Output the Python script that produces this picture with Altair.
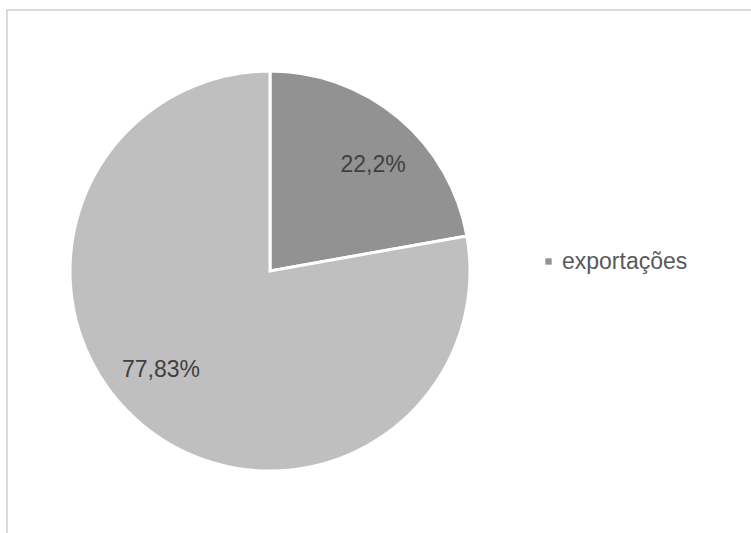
import altair as alt
import pandas as pd

categories = ["exportações", " "]
values = [22.2, 77.83]
labels = ["22,2%", "77,83%"]
order = [0, 1]

df = pd.DataFrame({"categoria": categories, "valor": values, "rotulo": labels, "ordem": order})

color_scale = alt.Scale(domain=categories, range=["#929292", "#bfbfbf"])

base = alt.Chart(df).encode(
    theta=alt.Theta("valor:Q", stack=True),
    order=alt.Order("ordem:Q"),
)

frame = alt.Chart(df).mark_rect(fill=None, stroke="#d9d9d9", strokeWidth=1.5).encode(
    x=alt.value(7), x2=alt.value(780), y=alt.value(10), y2=alt.value(560)
)

pie = base.mark_arc(radius=200, stroke="white", strokeWidth=3).encode(
    x=alt.value(270), y=alt.value(271),
    color=alt.Color(
        "categoria:N", scale=color_scale,
        legend=alt.Legend(
            title=None, values=["exportações"], orient="none",
            legendX=537, legendY=250, symbolType="square", symbolSize=40,
            symbolStrokeWidth=0, labelFontSize=23, labelColor="#595959",
            labelFont="Liberation Sans", labelOffset=2,
        ),
    ),
)

text_style = dict(radius=148, fontSize=23, font="Liberation Sans", color="#404040")

text1 = base.mark_text(dx=8, dy=7, **text_style).encode(
    x=alt.value(270), y=alt.value(271),
    text="rotulo:N",
    opacity=alt.condition(alt.datum.ordem == 0, alt.value(1), alt.value(0)),
)

text2 = base.mark_text(dx=-14, dy=-14, **text_style).encode(
    x=alt.value(270), y=alt.value(271),
    text="rotulo:N",
    opacity=alt.condition(alt.datum.ordem == 1, alt.value(1), alt.value(0)),
)

chart = alt.layer(frame, pie, text1, text2).properties(
    width=751, height=533, padding=0, autosize=alt.AutoSizeParams(type="none")
).configure_view(stroke=None)

chart.save("out.html", embed_options={"renderer": "svg", "actions": False})
